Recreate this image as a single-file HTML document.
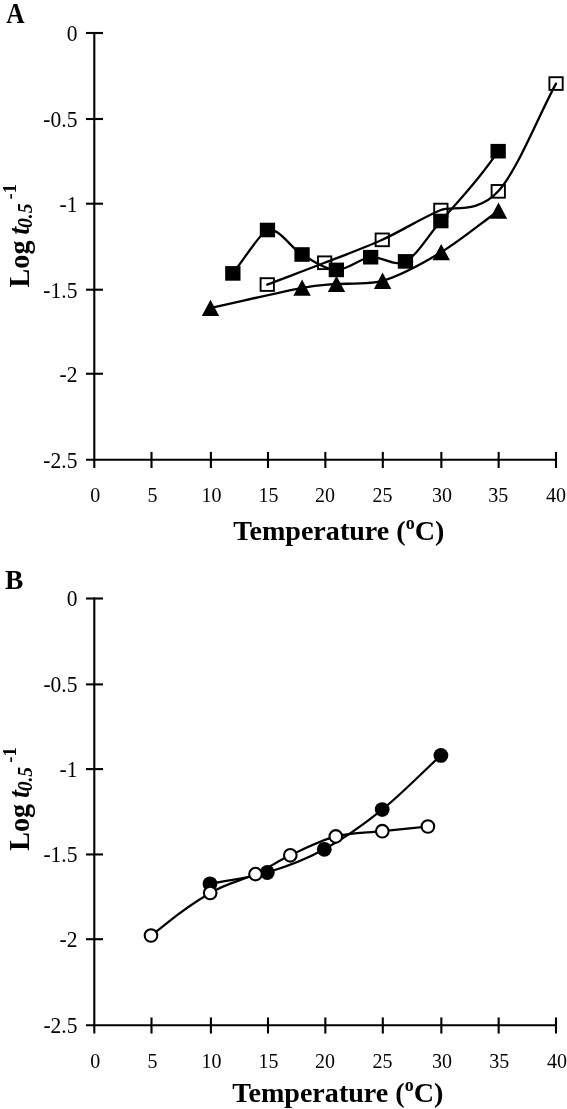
<!DOCTYPE html>
<html lang="en">
<head>
<meta charset="utf-8">
<title>Log t0.5-1 versus temperature</title>
<style>
html,body{margin:0;padding:0;background:#fff;}
body{width:567px;height:1109px;overflow:hidden;}
svg{display:block;}
text{font-family:"Liberation Serif",serif;fill:#000;}
.tick{font-size:21.5px;}
.ttl{font-size:28.1px;font-weight:bold;}
.pl{font-size:27px;font-weight:bold;}
.ax{stroke:#000;stroke-width:2.1;fill:none;}
.ln{stroke:#000;stroke-width:2.3;fill:none;stroke-linecap:round;stroke-linejoin:round;}
.fs{fill:#000;}
.os{fill:none;stroke:#000;stroke-width:1.9;}
.oc{fill:#fff;stroke:#000;stroke-width:2.1;}
</style>
</head>
<body>
<svg width="567" height="1109" viewBox="0 0 567 1109">
<rect width="567" height="1109" fill="#fff"/>

<text class="pl" style="font-size:25.4px" transform="translate(6.2 23.1) scale(1 1.16)">A</text>
<g class="ax">
<path d="M94.30 32.00 V468.00"/>
<path d="M86.00 459.70 H556.00"/>
<path d="M86.00 33.00 H103.00"/>
<path d="M86.00 119.00 H103.00"/>
<path d="M86.00 203.70 H103.00"/>
<path d="M86.00 289.70 H103.00"/>
<path d="M86.00 373.75 H103.00"/>
<path d="M151.50 451.90 V468.00"/>
<path d="M210.90 451.90 V468.00"/>
<path d="M268.00 451.90 V468.00"/>
<path d="M325.35 451.90 V468.00"/>
<path d="M382.80 451.90 V468.00"/>
<path d="M441.35 451.90 V468.00"/>
<path d="M498.65 451.90 V468.00"/>
<path d="M556.00 451.90 V468.00"/>
</g>
<g class="tick" text-anchor="end">
<text transform="translate(77.4 41.1) scale(1 1.06)">0</text>
<text transform="translate(77.4 127.1) scale(1 1.06)">-0.5</text>
<text transform="translate(77.4 211.8) scale(1 1.06)">-1</text>
<text transform="translate(77.4 297.8) scale(1 1.06)">-1.5</text>
<text transform="translate(77.4 381.9) scale(1 1.06)">-2</text>
<text transform="translate(77.4 467.8) scale(1 1.06)">-2.5</text>
</g>
<g class="tick" text-anchor="middle" style="font-size:20px">
<text transform="translate(95.2 502.3) scale(1 1.05)">0</text>
<text transform="translate(152.4 502.3) scale(1 1.05)">5</text>
<text transform="translate(211.5 502.3) scale(1 1.05)">10</text>
<text transform="translate(268.6 502.3) scale(1 1.05)">15</text>
<text transform="translate(325.1 502.3) scale(1 1.05)">20</text>
<text transform="translate(382.5 502.3) scale(1 1.05)">25</text>
<text transform="translate(442.0 502.3) scale(1 1.05)">30</text>
<text transform="translate(498.3 502.3) scale(1 1.05)">35</text>
<text transform="translate(556.1 502.3) scale(1 1.05)">40</text>
</g>
<text class="ttl" x="338.8" y="540.0" text-anchor="middle">Temperature (<tspan font-size="18" dy="-11.3">o</tspan><tspan dy="11.3">C)</tspan></text>
<text class="ttl" transform="translate(29.1 287.4) rotate(-90) scale(1 1.04)">Log <tspan font-style="italic" dx="-1.1">t</tspan><tspan font-style="italic" font-size="19.5" dy="3.2" dx="-1.1">0.5</tspan><tspan font-size="18.5" dy="-15.8" dx="4.2">-1</tspan></text>
<g class="ln">
<path d="M232.8 273.4 C244.3 258.9 261.0 231.8 267.4 230.0 C278.9 226.8 290.5 247.8 302.0 254.5 C313.5 261.1 324.9 269.4 336.3 269.9 C347.7 270.3 359.1 258.6 370.6 257.2 C382.1 255.8 393.7 267.4 405.4 261.4 C417.1 255.4 425.4 239.4 440.8 221.0 C459.9 199.5 479.0 180.2 498.1 151.2"/>
<path d="M267.2 284.6 C286.3 277.3 305.4 270.3 324.6 262.8 C343.8 255.3 362.8 248.6 382.2 239.8 C401.6 231.0 421.5 218.1 440.8 210.0 C451.9 205.3 476.8 214.8 498.2 191.3 C517.4 170.2 536.7 119.5 556.0 83.6"/>
<path d="M210.5 308.0 C241.0 301.3 281.1 291.8 302.1 287.8 C319.1 284.6 323.1 285.1 336.5 284.0 C352.0 283.5 374.0 284.0 382.6 280.9 C400.1 275.6 421.9 263.9 441.2 252.2 C460.5 240.5 479.4 224.5 498.5 210.7"/>
</g>
<g class="fs">
<rect x="225.2" y="266.1" width="15.3" height="14.6"/>
<rect x="259.8" y="222.7" width="15.3" height="14.6"/>
<rect x="294.4" y="247.2" width="15.3" height="14.6"/>
<rect x="328.7" y="262.6" width="15.3" height="14.6"/>
<rect x="363.0" y="249.9" width="15.3" height="14.6"/>
<rect x="397.8" y="254.1" width="15.3" height="14.6"/>
<rect x="433.2" y="213.7" width="15.3" height="14.6"/>
<rect x="490.5" y="143.9" width="15.3" height="14.6"/>
<path d="M210.5 299.7 L219.2 316.0 L201.8 316.0 Z"/>
<path d="M302.1 279.5 L310.8 295.8 L293.4 295.8 Z"/>
<path d="M336.5 275.7 L345.2 292.0 L327.8 292.0 Z"/>
<path d="M382.6 272.6 L391.3 288.9 L373.9 288.9 Z"/>
<path d="M441.2 243.9 L449.9 260.2 L432.5 260.2 Z"/>
<path d="M498.5 202.4 L507.2 218.7 L489.8 218.7 Z"/>
</g>
<g class="os">
<rect x="260.6" y="278.2" width="13.3" height="12.7"/>
<rect x="318.0" y="256.4" width="13.3" height="12.7"/>
<rect x="375.6" y="233.5" width="13.3" height="12.7"/>
<rect x="434.2" y="203.7" width="13.3" height="12.7"/>
<rect x="491.6" y="185.0" width="13.3" height="12.7"/>
<rect x="549.4" y="77.2" width="13.3" height="12.7"/>
</g>
<text class="pl" style="font-size:27.5px" transform="translate(4.9 588.8) scale(1 1.03)">B</text>
<g class="ax">
<path d="M94.30 597.50 V1033.55"/>
<path d="M86.00 1025.25 H556.00"/>
<path d="M86.00 598.50 H103.00"/>
<path d="M86.00 684.40 H103.00"/>
<path d="M86.00 769.10 H103.00"/>
<path d="M86.00 854.45 H103.00"/>
<path d="M86.00 939.20 H103.00"/>
<path d="M151.50 1017.45 V1033.55"/>
<path d="M210.90 1017.45 V1033.55"/>
<path d="M268.00 1017.45 V1033.55"/>
<path d="M325.35 1017.45 V1033.55"/>
<path d="M382.80 1017.45 V1033.55"/>
<path d="M441.35 1017.45 V1033.55"/>
<path d="M498.65 1017.45 V1033.55"/>
<path d="M556.00 1017.45 V1033.55"/>
</g>
<g class="tick" text-anchor="end">
<text transform="translate(77.4 606.2) scale(1 1.04)">0</text>
<text transform="translate(77.4 692.1) scale(1 1.04)">-0.5</text>
<text transform="translate(77.4 776.8) scale(1 1.04)">-1</text>
<text transform="translate(77.4 862.2) scale(1 1.04)">-1.5</text>
<text transform="translate(77.4 946.9) scale(1 1.04)">-2</text>
<text transform="translate(77.4 1033.0) scale(1 1.04)">-2.5</text>
</g>
<g class="tick" text-anchor="middle" style="font-size:20px">
<text transform="translate(95.2 1067.8) scale(1 1.05)">0</text>
<text transform="translate(152.4 1067.8) scale(1 1.05)">5</text>
<text transform="translate(211.5 1067.8) scale(1 1.05)">10</text>
<text transform="translate(268.6 1067.8) scale(1 1.05)">15</text>
<text transform="translate(325.1 1067.8) scale(1 1.05)">20</text>
<text transform="translate(382.5 1067.8) scale(1 1.05)">25</text>
<text transform="translate(442.0 1067.8) scale(1 1.05)">30</text>
<text transform="translate(499.3 1067.8) scale(1 1.05)">35</text>
<text transform="translate(556.9 1067.8) scale(1 1.05)">40</text>
</g>
<text class="ttl" x="337.8" y="1102.3" text-anchor="middle">Temperature (<tspan font-size="18" dy="-11.3">o</tspan><tspan dy="11.3">C)</tspan></text>
<text class="ttl" transform="translate(29.1 850.7) rotate(-90) scale(1 1.04)">Log <tspan font-style="italic" dx="-1.1">t</tspan><tspan font-style="italic" font-size="19.5" dy="3.2" dx="-1.1">0.5</tspan><tspan font-size="18.5" dy="-15.8" dx="4.2">-1</tspan></text>
<g class="ln" style="stroke-width:2.2">
<path d="M210.0 883.8 C229.1 880.0 248.2 878.2 267.3 872.5 C286.4 866.8 305.2 859.8 324.3 849.3 C343.4 838.8 362.8 825.2 382.2 809.6 C401.6 794.0 421.3 773.5 440.9 755.4"/>
<path d="M151.0 935.5 C170.7 921.3 176.9 912.6 210.2 893.0 C227.6 882.8 242.2 880.4 255.5 874.1 C268.9 867.8 276.9 861.6 290.3 855.3 C303.7 849.0 320.5 840.4 335.8 836.4 C351.1 832.4 367.0 832.9 382.3 831.2 C397.6 829.6 412.7 828.1 427.9 826.5"/>
</g>
<g class="fs">
<circle cx="210.0" cy="883.8" r="7.4"/>
<circle cx="267.3" cy="872.5" r="7.4"/>
<circle cx="324.3" cy="849.3" r="7.4"/>
<circle cx="382.2" cy="809.6" r="7.4"/>
<circle cx="440.9" cy="755.4" r="7.4"/>
</g>
<g class="oc">
<circle cx="151.0" cy="935.5" r="6.3"/>
<circle cx="210.2" cy="893.0" r="6.3"/>
<circle cx="255.5" cy="874.1" r="6.3"/>
<circle cx="290.3" cy="855.3" r="6.3"/>
<circle cx="335.8" cy="836.4" r="6.3"/>
<circle cx="382.3" cy="831.2" r="6.3"/>
<circle cx="427.9" cy="826.5" r="6.3"/>
</g>
</svg>
</body>
</html>
